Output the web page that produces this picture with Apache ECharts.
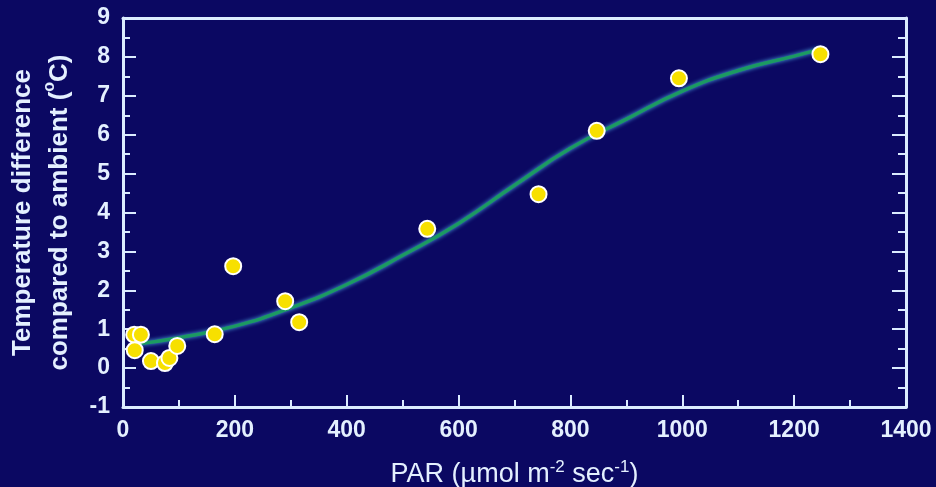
<!DOCTYPE html>
<html>
<head>
<meta charset="utf-8">
<script src="https://cdn.jsdelivr.net/npm/echarts@6/dist/echarts.min.js"></script>
<style>
  html, body { margin: 0; padding: 0; background: #0b0862; }
  #main { width: 936px; height: 487px; }
</style>
</head>
<body>
<div id="main"></div>
<script>
// measured points (PAR, temperature difference)
var parX = [20, 32, 21, 50, 75, 83, 97, 164, 197, 290, 315, 544, 743, 847, 994, 1247];
var tempDiff = [0.86, 0.86, 0.46, 0.18, 0.13, 0.26, 0.57, 0.87, 2.62, 1.72, 1.18, 3.58, 4.47, 6.1, 7.45, 8.07];

// fitted curve
var fitX = [21, 100, 200, 300, 400, 500, 600, 700, 800, 900, 1000, 1100, 1200, 1247];
var fitY = [0.61, 0.78, 1.08, 1.55, 2.15, 2.9, 3.72, 4.7, 5.65, 6.4, 7.12, 7.65, 8.02, 8.2];

var xTicks = [0, 200, 400, 600, 800, 1000, 1200, 1400];
var yTicks = [-1, 0, 1, 2, 3, 4, 5, 6, 7, 8, 9];

var txtColor = '#e4f0ff';
var lineColor = '#dcecff';

var pts = [];
for (var i = 0; i < parX.length; i++) pts.push([parX[i], tempDiff[i]]);
var fit = [];
for (var j = 0; j < fitX.length; j++) fit.push([fitX[j], fitY[j]]);

var chart = echarts.init(document.getElementById('main'));
chart.setOption({
  backgroundColor: '#0b0862',
  animation: false,
  grid: { left: 123, right: 30, top: 18, bottom: 80, outerBoundsMode: 'none', containLabel: false },
  xAxis: [{
    type: 'value',
    position: 'bottom',
    min: xTicks[0],
    max: xTicks[xTicks.length - 1],
    interval: 200,
    axisLine: { show: true, onZero: false, lineStyle: { color: lineColor, width: 3 } },
    axisTick: { show: true, inside: true, length: 12, lineStyle: { color: lineColor, width: 2 } },
    minorTick: { show: true, splitNumber: 2, length: 7, lineStyle: { color: lineColor, width: 2 } },
    splitLine: { show: false },
    axisLabel: {
      color: txtColor, fontSize: 23, fontWeight: 'bold', fontFamily: 'Liberation Sans', margin: 12,
      formatter: function (v) { return String(v); }
    },
    name: 'PAR (\u00b5mol m{sup|-2} sec{sup|-1})',
    nameLocation: 'middle',
    nameGap: 52,
    nameTextStyle: {
      color: txtColor, fontSize: 27, fontFamily: 'Liberation Sans',
      rich: { sup: { fontSize: 17, color: txtColor, fontFamily: 'Liberation Sans', verticalAlign: 'top', padding: [0, 0, 14, 0] } }
    }
  }, {
    type: 'value',
    position: 'top',
    min: xTicks[0],
    max: xTicks[xTicks.length - 1],
    axisLine: { show: true, onZero: false, lineStyle: { color: lineColor, width: 3 } },
    axisTick: { show: false },
    axisLabel: { show: false },
    splitLine: { show: false }
  }],
  yAxis: [{
    type: 'value',
    position: 'left',
    min: yTicks[0],
    max: yTicks[yTicks.length - 1],
    interval: 1,
    axisLine: { show: true, onZero: false, lineStyle: { color: lineColor, width: 3 } },
    axisTick: { show: true, inside: true, length: 13, lineStyle: { color: lineColor, width: 2 } },
    minorTick: { show: true, splitNumber: 2, length: 7, lineStyle: { color: lineColor, width: 2 } },
    splitLine: { show: false },
    axisLabel: {
      color: txtColor, fontSize: 23, fontWeight: 'bold', fontFamily: 'Liberation Sans', margin: 13,
      formatter: function (v) { return String(v); }
    },
    name: 'Temperature difference\ncompared to ambient ({sup|o}C)',
    nameLocation: 'middle',
    nameRotate: 90,
    nameGap: 43,
    nameTextStyle: {
      color: txtColor, fontSize: 26, fontWeight: 'bold', fontFamily: 'Liberation Sans', lineHeight: 37,
      rich: { sup: { fontSize: 16, fontWeight: 'bold', color: txtColor, fontFamily: 'Liberation Sans', verticalAlign: 'top', padding: [0, 0, 12, 0] } }
    }
  }, {
    type: 'value',
    position: 'right',
    min: yTicks[0],
    max: yTicks[yTicks.length - 1],
    interval: 1,
    axisLine: { show: true, onZero: false, lineStyle: { color: lineColor, width: 3 } },
    axisTick: { show: true, inside: true, length: 14, lineStyle: { color: lineColor, width: 2 } },
    minorTick: { show: true, splitNumber: 2, length: 8, lineStyle: { color: lineColor, width: 2 } },
    axisLabel: { show: false },
    splitLine: { show: false }
  }],
  series: [{
    type: 'line',
    data: fit,
    smooth: true,
    symbol: 'none',
    z: 3,
    lineStyle: { color: '#1c9a62', width: 3.5, shadowColor: '#4fb0e8', shadowBlur: 4 }
  }, {
    type: 'scatter',
    data: pts,
    symbolSize: 16,
    z: 4,
    itemStyle: { color: '#f7e000', borderColor: '#ffffff', borderWidth: 2, opacity: 1 }
  }]
});
</script>
</body>
</html>
